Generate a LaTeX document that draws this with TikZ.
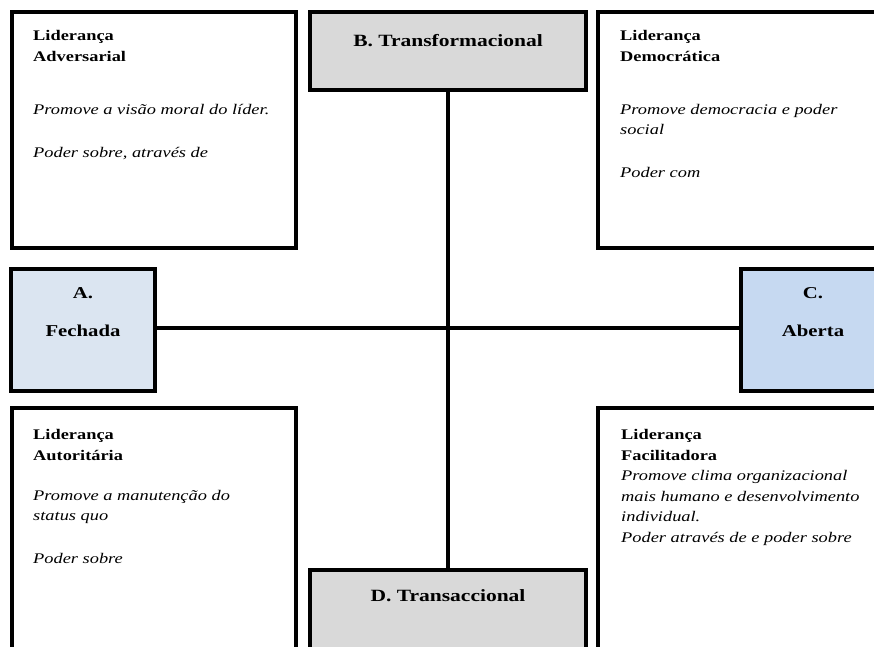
\documentclass[tikz,border=0pt]{standalone}
\usepackage{fontspec}
\setmainfont{Liberation Serif}[FakeStretch=1.25]
\definecolor{cinza}{HTML}{D9D9D9}
\definecolor{azulA}{HTML}{DBE5F1}
\definecolor{azulC}{HTML}{C6D9F1}

\tikzset{
    quadro/.style={draw, line width=4pt, fill=white, inner sep=0pt,
        minimum width=284pt, minimum height=236pt},
    polo/.style={draw, line width=4pt, fill=cinza, inner sep=0pt,
        minimum width=276pt, minimum height=78pt},
    lado/.style={draw, line width=4pt, inner sep=0pt,
        minimum width=144pt, minimum height=122pt},
    eixo/.style={line width=4pt},
    texto/.style={anchor=north west, align=left, inner sep=0pt,
        font=\fontsize{14.7}{20.6}\selectfont},
    rotulo/.style={align=center, inner sep=0pt,
        font=\bfseries\fontsize{16.6}{38}\selectfont}
}

\begin{document}
\begin{tikzpicture}[x=1pt, y=-1pt]
    \useasboundingbox (0,0) rectangle (874,646);
    \clip (0,0) rectangle (874,646);
    % quadrantes
    \node[quadro] (adv) at (154,130) {};
    \node[quadro] (dem) at (740,130) {};
    \node[quadro, minimum height=260pt] (aut) at (154,538) {};
    \node[quadro, minimum height=260pt] (fac) at (740,538) {};
    % polos
    \node[polo] (B) at (448,51) {};
    \node[polo, minimum height=100pt] (D) at (448,619.5) {};
    \node[lado, fill=azulA] (A) at (83,330) {};
    \node[lado, fill=azulC] (C) at (813,330) {};
    % eixos
    \draw[eixo] (B) -- (D);
    \draw[eixo] ([yshift=2.5pt]A.east) -- ([yshift=2.5pt]C.west);
    % rotulos dos polos
    \node[rotulo, anchor=base, font=\bfseries\fontsize{17.2}{38}\selectfont] (B-txt) at (448,46) {B. Transformacional};
    \node[rotulo, anchor=base, font=\bfseries\fontsize{17.2}{38}\selectfont] (D-txt) at (448,601) {D. Transaccional};
    \node[rotulo] (A-txt) at (83,312) {A.\\Fechada};
    \node[rotulo] (C-txt) at (813,312) {C.\\Aberta};
    % textos
    \node[texto] (adv-txt) at (33,30) {\textbf{Liderança}\\\textbf{Adversarial}\\[32.4pt]
        \textit{Promove a visão moral do líder.}\\[22.4pt]
        \textit{Poder sobre, através de}};
    \node[texto] (dem-txt) at (620,30) {\textbf{Liderança}\\\textbf{Democrática}\\[32.4pt]
        \textit{Promove democracia e poder}\\\textit{social}\\[22.4pt]
        \textit{Poder com}};
    \node[texto] (aut-txt) at (33,429) {\textbf{Liderança}\\\textbf{Autoritária}\\[19.4pt]
        \textit{Promove a manutenção do}\\\textit{status quo}\\[22.4pt]
        \textit{Poder sobre}};
    \node[texto] (fac-txt) at (621,429) {\textbf{Liderança}\\\textbf{Facilitadora}\\
        \textit{Promove clima organizacional}\\\textit{mais humano e desenvolvimento}\\
        \textit{individual.}\\\textit{Poder através de e poder sobre}};
\end{tikzpicture}
\end{document}
